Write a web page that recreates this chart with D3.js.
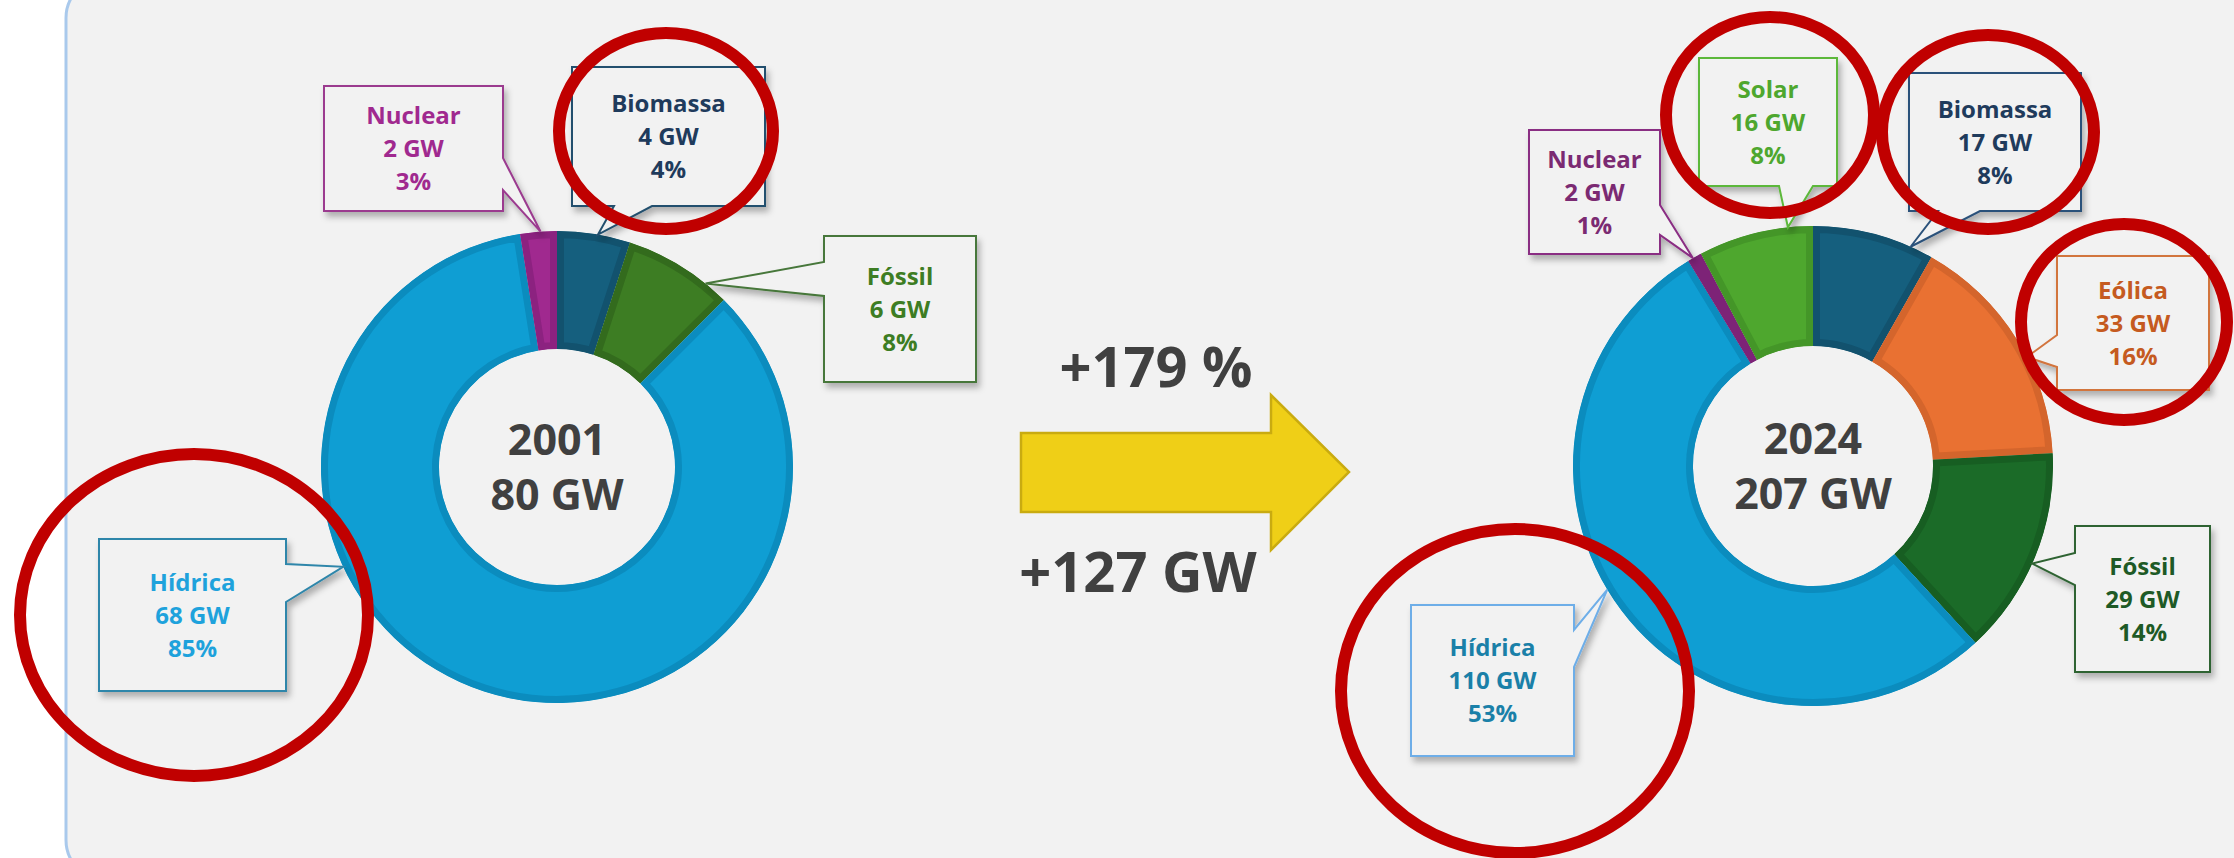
<!DOCTYPE html>
<html>
<head>
<meta charset="utf-8">
<script src="https://cdn.jsdelivr.net/npm/d3@7"></script>
<style>
  html, body { margin: 0; padding: 0; background: #fff; }
  svg { display: block; font-family: "Open Sans", sans-serif; }
</style>
</head>
<body>
<svg id="chart" width="2234" height="858"></svg>
<script>
// capacity by source (GW), clockwise from 12 o'clock
const categories2001 = ["Biomassa", "Fóssil", "Hídrica", "Nuclear"];
const gw2001 = [4, 6, 68, 2];
const share2001 = ["4%", "8%", "85%", "3%"];

const categories2024 = ["Biomassa", "Eólica", "Fóssil", "Hídrica", "Nuclear", "Solar"];
const gw2024 = [17, 33, 29, 110, 2, 16];
const share2024 = ["8%", "16%", "14%", "53%", "1%", "8%"];

const years = ["2001", "2024"];
const growthPct = "+179 %";

// sources circled in red
const circled2001 = ["Biomassa", "Hídrica"];
const circled2024 = ["Solar", "Biomassa", "Eólica", "Hídrica"];

// ---- styling / layout ----
const palette2001 = {
  "Biomassa": { fill: "#155f7e", edge: "#12526e", text: "#1f3b5c", box: "#24506e" },
  "Fóssil":   { fill: "#3d7d23", edge: "#336b1d", text: "#3d7d23", box: "#47773a" },
  "Hídrica":  { fill: "#0f9ed3", edge: "#0b8cbe", text: "#1ea2dc", box: "#2f86aa" },
  "Nuclear":  { fill: "#a0298f", edge: "#8c2280", text: "#a0298f", box: "#9b3b8f" }
};
const palette2024 = {
  "Biomassa": { fill: "#155f7e", edge: "#12526e", text: "#1f3b5c", box: "#2b517a" },
  "Eólica":   { fill: "#e97132", edge: "#d4652c", text: "#c55a20", box: "#d2743e" },
  "Fóssil":   { fill: "#1b6b28", edge: "#175e22", text: "#1e5a26", box: "#2f6333" },
  "Hídrica":  { fill: "#0f9ed3", edge: "#0b8cbe", text: "#1a80a8", box: "#6eaee8" },
  "Nuclear":  { fill: "#8e2a88", edge: "#7d2377", text: "#7b2a72", box: "#8a2d83" },
  "Solar":    { fill: "#4ea72e", edge: "#449628", text: "#4ea72e", box: "#5cb83a" }
};

// callout boxes: side holds the pointer notch (a..b along that side), angle = where it points on the ring
const callouts2001 = {
  "Biomassa": { x: 572, y: 67, w: 193, h: 139, side: "bottom", a: 614, b: 652, angle: 10 },
  "Fóssil":   { x: 824, y: 236, w: 152, h: 146, side: "left", a: 262, b: 296, angle: 39 },
  "Hídrica":  { x: 99, y: 539, w: 187, h: 152, side: "right", a: 564, b: 602, angle: 245 },
  "Nuclear":  { x: 324, y: 86, w: 179, h: 125, side: "right", a: 158, b: 190, angle: -4 }
};
const callouts2024 = {
  "Biomassa": { x: 1909, y: 73, w: 172, h: 138, side: "bottom", a: 1938, b: 1980, angle: 24 },
  "Eólica":   { x: 2057, y: 256, w: 152, h: 134, side: "left", a: 335, b: 367, angle: 63 },
  "Fóssil":   { x: 2075, y: 526, w: 135, h: 146, side: "left", a: 553, b: 585, angle: 114 },
  "Hídrica":  { x: 1411, y: 605, w: 163, h: 151, side: "right", a: 630, b: 667, angle: 239 },
  "Nuclear":  { x: 1529, y: 130, w: 131, h: 124, side: "right", a: 205, b: 235, angle: 330 },
  "Solar":    { x: 1699, y: 58, w: 138, h: 128, side: "bottom", a: 1779, b: 1813, angle: -6 }
};
const rings = {
  "Biomassa": { x: 666, y: 131, rx: 107, ry: 98 },
  "Hídrica":  { x: 194, y: 615, rx: 174, ry: 161 }
};
const rings2024 = {
  "Solar":    { x: 1770, y: 115, rx: 104, ry: 98 },
  "Biomassa": { x: 1988, y: 132, rx: 106, ry: 97 },
  "Eólica":   { x: 2124, y: 322, rx: 103, ry: 98 },
  "Hídrica":  { x: 1515, y: 691, rx: 174, ry: 162 }
};

const charts = [
  { id: "y2001", year: years[0], cats: categories2001, gw: gw2001, share: share2001, circled: circled2001,
    palette: palette2001, callouts: callouts2001, rings: rings, cx: 557, cy: 467, inner: 118, outer: 236 },
  { id: "y2024", year: years[1], cats: categories2024, gw: gw2024, share: share2024, circled: circled2024,
    palette: palette2024, callouts: callouts2024, rings: rings2024, cx: 1813, cy: 466, inner: 120, outer: 240 }
];

const TEXT_DARK = "#404040";
const LABEL_SIZE = 24;
const LINE_GAP = 33;

const svg = d3.select("#chart");
const W = +svg.attr("width"), H = +svg.attr("height");
const defs = svg.append("defs");

defs.append("filter")
  .attr("id", "box-shadow")
  .attr("x", "-10%").attr("y", "-10%").attr("width", "130%").attr("height", "130%")
  .append("feDropShadow")
  .attr("dx", 3).attr("dy", 5).attr("stdDeviation", 3)
  .attr("flood-color", "#000").attr("flood-opacity", 0.28);

// panel behind everything
svg.append("rect")
  .attr("x", 66).attr("y", -22)
  .attr("width", W).attr("height", H + 44)
  .attr("rx", 40)
  .attr("fill", "#f2f2f2")
  .attr("stroke", "#a9c9ec")
  .attr("stroke-width", 3);

const pie = d3.pie().sort(null).value((d) => d.gw);

// builds a box outline with a notch that runs to the tip
function calloutPath(c, tip) {
  const p = d3.path();
  const x0 = c.x, y0 = c.y, x1 = c.x + c.w, y1 = c.y + c.h;
  p.moveTo(x0, y0);
  p.lineTo(x1, y0);
  if (c.side === "right") {
    p.lineTo(x1, c.a); p.lineTo(tip[0], tip[1]); p.lineTo(x1, c.b);
  }
  p.lineTo(x1, y1);
  if (c.side === "bottom") {
    p.lineTo(c.b, y1); p.lineTo(tip[0], tip[1]); p.lineTo(c.a, y1);
  }
  p.lineTo(x0, y1);
  if (c.side === "left") {
    p.lineTo(x0, c.b); p.lineTo(tip[0], tip[1]); p.lineTo(x0, c.a);
  }
  p.closePath();
  return p.toString();
}

charts.forEach((ch) => {
  const data = ch.cats.map((c, i) => ({ cat: c, gw: ch.gw[i], share: ch.share[i] }));
  const arcs = pie(data);
  const arc = d3.arc().innerRadius(ch.inner).outerRadius(ch.outer);

  const g = svg.append("g")
    .attr("class", "donut")
    .attr("transform", `translate(${ch.cx},${ch.cy})`);

  // each slice gets a darker inner edge: stroke clipped to the slice itself
  arcs.forEach((a, i) => {
    const clipId = `clip-${ch.id}-${i}`;
    defs.append("clipPath").attr("id", clipId)
      .append("path").attr("d", arc(a));
    g.append("path")
      .attr("d", arc(a))
      .attr("clip-path", `url(#${clipId})`)
      .attr("fill", ch.palette[a.data.cat].fill)
      .attr("stroke", ch.palette[a.data.cat].edge)
      .attr("stroke-width", 14)
      .attr("stroke-linejoin", "miter");
  });

  // centre text
  const total = d3.sum(ch.gw);
  g.append("text")
    .attr("text-anchor", "middle").attr("y", -12)
    .attr("font-size", 43).attr("font-weight", 700).attr("fill", TEXT_DARK)
    .text(ch.year);
  g.append("text")
    .attr("text-anchor", "middle").attr("y", 43)
    .attr("font-size", 43).attr("font-weight", 700).attr("fill", TEXT_DARK)
    .text(`${total} GW`);

  // callouts
  arcs.forEach((a) => {
    const c = ch.callouts[a.data.cat];
    const col = ch.palette[a.data.cat];
    const t = (c.angle * Math.PI) / 180;
    const tip = [ch.cx + ch.outer * Math.sin(t), ch.cy - ch.outer * Math.cos(t)];

    const cg = svg.append("g").attr("class", "callout");
    cg.append("path")
      .attr("d", calloutPath(c, tip))
      .attr("fill", "#f2f2f2")
      .attr("stroke", col.box)
      .attr("stroke-width", 2)
      .attr("filter", "url(#box-shadow)");

    const lines = [a.data.cat, `${a.data.gw} GW`, a.data.share];
    const mx = c.x + c.w / 2, my = c.y + c.h / 2;
    cg.selectAll("text")
      .data(lines)
      .join("text")
      .attr("x", mx)
      .attr("y", (d, i) => my + (i - 1) * LINE_GAP + LABEL_SIZE * 0.36)
      .attr("text-anchor", "middle")
      .attr("font-size", LABEL_SIZE)
      .attr("font-weight", 700)
      .attr("fill", col.text)
      .text((d) => d);
  });
});

// growth arrow in the middle
const arrowPts = [
  [1021, 433], [1271, 433], [1271, 395], [1349, 472],
  [1271, 550], [1271, 512], [1021, 512]
];
svg.append("path")
  .attr("d", d3.line()(arrowPts) + "Z")
  .attr("fill", "#efcf17")
  .attr("stroke", "#c9ab10")
  .attr("stroke-width", 2.5)
  .attr("stroke-linejoin", "miter");

svg.append("text")
  .attr("x", 1156).attr("y", 387)
  .attr("text-anchor", "middle")
  .attr("font-size", 56).attr("font-weight", 700).attr("fill", TEXT_DARK)
  .text(growthPct);
svg.append("text")
  .attr("x", 1138).attr("y", 592)
  .attr("text-anchor", "middle")
  .attr("font-size", 56).attr("font-weight", 700).attr("fill", TEXT_DARK)
  .text(`+${d3.sum(gw2024) - d3.sum(gw2001)} GW`);

// red highlight rings drawn last, over everything
charts.forEach((ch) => {
  svg.append("g")
    .attr("class", "highlights")
    .selectAll("ellipse")
    .data(ch.circled.map((c) => ch.rings[c]))
    .join("ellipse")
    .attr("cx", (d) => d.x).attr("cy", (d) => d.y)
    .attr("rx", (d) => d.rx).attr("ry", (d) => d.ry)
    .attr("fill", "none")
    .attr("stroke", "#c00000")
    .attr("stroke-width", 12);
});
</script>
</body>
</html>
